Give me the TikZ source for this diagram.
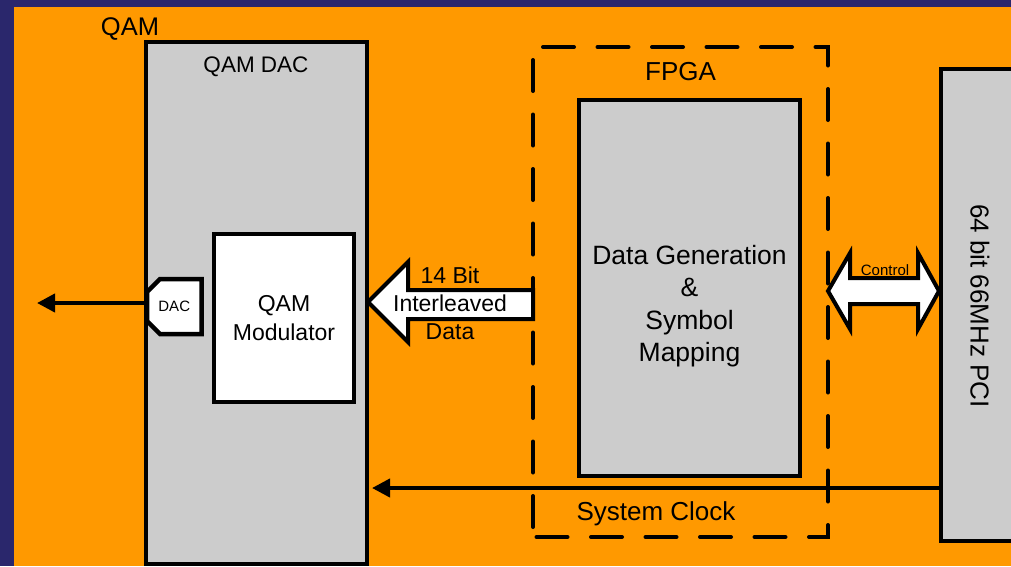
\documentclass[tikz,border=0pt]{standalone}
\usepackage{fontspec}
\setmainfont{Liberation Sans}
\usetikzlibrary{arrows.meta}
\definecolor{slide}{HTML}{2A276C}
\definecolor{panel}{HTML}{FF9900}
\definecolor{chip}{HTML}{CCCCCC}
\newcommand\fsz[2]{\fontsize{#1}{#2}\selectfont}
\tikzset{
  blk/.style={draw=black, line width=4pt, fill=chip, inner sep=0pt, outer sep=0pt, anchor=north west},
  lbl/.style={inner sep=0pt, anchor=base, text=black},
  txt/.style={inner sep=0pt, align=center, text=black},
  wire/.style={draw=black, line width=4pt, -{Triangle[length=18pt,width=18pt]}},
  fat/.style={draw=black, line width=4pt, fill=white, line join=miter},
  fpgaline/.style={draw=black, line width=4pt, line cap=round, dash pattern=on 31pt off 23.5pt, dash phase=44.5pt},
}
\begin{document}
\begin{tikzpicture}[x=1pt,y=-1pt]
\useasboundingbox (0,0) rectangle (1011,566);
\clip (0,0) rectangle (1011,566);
% slide background and board
\fill[slide] (0,0) rectangle (1011,566);
\fill[panel] (14,7) rectangle (1011,566);

% QAM board: DAC chip
\node[lbl, font=\fsz{25.5}{30}] (qamlbl) at (130,35) {QAM};
\node[blk, minimum width=221pt, minimum height=522pt] (qamdac) at (146,42) {};
\node[lbl, font=\fsz{22.5}{27}] (qamdaclbl) at (256,72) {QAM DAC};
\node[blk, fill=white, minimum width=140pt, minimum height=168pt,
      align=center, font=\fsz{23}{28.5}] (mod) at (214,234) {QAM\\Modulator};

% DAC port with chamfered left corners
\draw[fat, line width=4.5pt] (160,279) -- (201.5,279) -- (201.5,334) -- (160,334)
  -- (147,321) -- (147,292) -- cycle;
\node[inner sep=0pt, outer sep=0pt, minimum width=54.5pt, minimum height=55pt,
      font=\fsz{15}{18}] (dac) at (174.25,306.5) {DAC};

% FPGA region
\node[inner sep=0pt, outer sep=0pt, anchor=north west,
      minimum width=295pt, minimum height=490pt] (fpga) at (533,47) {};
\draw[fpgaline] (fpga.north west) -- (fpga.north east) -- (fpga.south east) -- (fpga.south west);
\draw[fpgaline] (fpga.south west) -- (fpga.north west);
\node[lbl, font=\fsz{26}{31}] (fpgalbl) at (680.5,80) {FPGA};
\node[blk, minimum width=221pt, minimum height=376pt] (gen) at (579,100) {};
\node[txt, font=\fsz{26.5}{32.5}] (gentxt) at (689.5,306) {Data Generation\\\&\\Symbol\\Mapping};

% PCI bus card
\node[blk, minimum width=100pt, minimum height=472pt] (pci) at (941,69) {};
\node[inner sep=0pt, rotate=-90, font=\fsz{26}{31}] (pcitxt) at (980,306) {64 bit 66MHz PCI};

% wide data arrow into the modulator
\draw[fat] (368,302) -- (408,262) -- (408,290) -- (533,290) -- (533,319)
  -- (408,319) -- (408,342) -- cycle;
\node[txt, font=\fsz{23}{28}] (bustxt) at (450,303.5) {14 Bit\\Interleaved\\Data};

% control link between FPGA and PCI
\draw[fat] (828,291) -- (850,253) -- (850,278) -- (918,278) -- (918,253) -- (939,291)
  -- (918,329) -- (918,304) -- (850,304) -- (850,329) -- cycle;
\node[lbl, font=\fsz{15}{18}] (ctrltxt) at (885,275) {Control};

% analog output
\coordinate (out) at (37,303);
\draw[wire] (dac.west |- out) -- (out);

% system clock
\coordinate (clk) at (0,488);
\draw[wire, shorten >=5pt] (pci.west |- clk) -- (qamdac.east |- clk);
\node[lbl, font=\fsz{26}{31}] (clktxt) at (656,520) {System Clock};
\end{tikzpicture}
\end{document}
